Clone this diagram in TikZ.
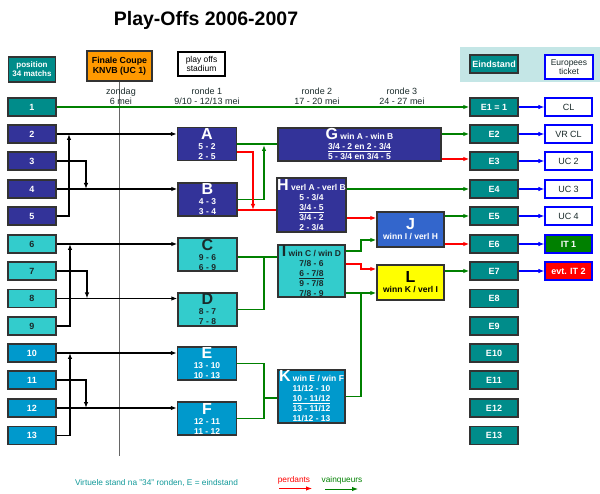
\documentclass[tikz,border=0pt]{standalone}
\usepackage{fontspec}
\setmainfont{Liberation Sans}
\usetikzlibrary{arrows.meta,calc}
\definecolor{tealA}{HTML}{008C8A}
\definecolor{navyA}{HTML}{333399}
\definecolor{turqA}{HTML}{33CCCC}
\definecolor{skyA}{HTML}{0099CC}
\definecolor{orngA}{HTML}{FF9900}
\definecolor{grnA}{HTML}{008000}
\definecolor{redA}{HTML}{FF0000}
\definecolor{bluA}{HTML}{0000FF}
\definecolor{panelA}{HTML}{C4E6E6}
\definecolor{jbluA}{HTML}{3366CC}
\definecolor{ylwA}{HTML}{FFFF00}
\definecolor{bordA}{HTML}{333333}
\definecolor{darkA}{HTML}{1A2A2A}
\definecolor{noteA}{HTML}{119999}
\newcommand{\bigletter}[1]{{\fontsize{16}{16}\selectfont #1}}
\begin{document}
\begin{tikzpicture}[x=1pt,y=-1pt,
  box/.style={draw=bordA, line width=1.4pt, inner sep=0pt, align=center,
    font=\fontsize{8.5}{10}\selectfont\bfseries},
  posbox/.style={box, minimum width=48pt, minimum height=18pt, font=\fontsize{9}{10}\selectfont\bfseries},
  endbox/.style={box, fill=tealA, text=white, minimum width=48pt, minimum height=18pt, font=\fontsize{9}{10}\selectfont\bfseries},
  ticket/.style={draw=bluA, line width=1.2pt, fill=white, inner sep=0pt, align=center,
    minimum width=47pt, minimum height=18pt, font=\fontsize{9}{10}\selectfont, text=darkA},
  matchbox/.style={box, minimum width=59pt, minimum height=33pt},
  hdr/.style={align=center, inner sep=0pt, font=\fontsize{9}{10}\selectfont, text=darkA},
  tip/.style={-{Latex[length=6pt,width=4.5pt]}},
  bline/.style={draw=black, line width=1.15pt},
  gline/.style={draw=grnA, line width=1.15pt},
  rline/.style={draw=redA, line width=1.15pt},
  uline/.style={draw=bluA, line width=1.15pt},
]
\useasboundingbox (0,0) rectangle (600,494);

% title
\node[font=\fontsize{19.5}{22}\selectfont\bfseries] (title) at (206,20) {Play-Offs 2006-2007};

% header boxes
\node[box, fill=tealA, text=white, minimum width=47pt, minimum height=25pt,
  font=\fontsize{8}{9}\selectfont\bfseries] (hpos) at (32,69.5) {position\\34 matchs};
\node[box, fill=orngA, text=black, minimum width=65pt, minimum height=30pt, font=\fontsize{8.8}{10.5}\selectfont\bfseries] (fin) at (119.5,66) {Finale Coupe\\KNVB (UC 1)};
\node[draw=black, line width=1.2pt, fill=white, inner sep=0pt, align=center, minimum width=47pt,
  minimum height=24pt, font=\fontsize{8.5}{9.5}\selectfont] (stad) at (201.5,64) {play offs\\stadium};

\node[fill=panelA, inner sep=0pt, minimum width=140pt, minimum height=35pt] (panel) at (530,64.5) {};
\node[endbox] (heind) at (494,64) {Eindstand};
\node[ticket, minimum width=48pt, minimum height=24pt, font=\fontsize{8.5}{8.5}\selectfont] (hticket) at (569,67) {Europees\\ticket};

% vertical line
\coordinate (vbot) at (119.5,456);
\draw[draw=gray!80!black, line width=1.3pt] (fin.south) -- (vbot);

% round headers
\node[hdr] (h0) at (121,96.5) {zondag\\6 mei};
\node[hdr] (h1) at (207,96.5) {ronde 1\\9/10 - 12/13 mei};
\node[hdr] (h2) at (317,96.5) {ronde 2\\17 - 20 mei};
\node[hdr] (h3) at (402,96.5) {ronde 3\\24 - 27 mei};

% position boxes
\foreach \n/\y/\c/\t in {1/107/tealA/white, 2/134/navyA/white, 3/161/navyA/white, 4/189/navyA/white,
  5/216/navyA/white, 6/244/turqA/darkA, 7/271/turqA/darkA, 8/298.5/turqA/darkA, 9/326/turqA/darkA,
  10/353/skyA/white, 11/380/skyA/white, 12/408/skyA/white, 13/435.5/skyA/white}
  \node[posbox, fill=\c, text=\t] (p\n) at (32,\y) {\n};

% end boxes
\node[endbox] (e1) at (494,107) {E1 = 1};
\foreach \n/\y in {2/134, 3/161, 4/189, 5/216, 6/244, 7/271, 8/298.5, 9/326, 10/353, 11/380, 12/408, 13/435.5}
  \node[endbox] (e\n) at (494,\y) {E\n};

% tickets
\node[ticket] (t1) at (568.5,107) {CL};
\node[ticket] (t2) at (568.5,134) {VR CL};
\node[ticket] (t3) at (568.5,161) {UC 2};
\node[ticket] (t4) at (568.5,189) {UC 3};
\node[ticket] (t5) at (568.5,216) {UC 4};
\node[ticket, draw=bluA, fill=grnA, text=white, font=\fontsize{9}{10}\selectfont\bfseries] (t6) at (568.5,244) {IT 1};
\node[ticket, draw=bluA, fill=redA, text=white, font=\fontsize{9}{10}\selectfont\bfseries] (t7) at (568.5,271) {evt. IT 2};

% round 1 matches
\node[matchbox, fill=navyA, text=white] (mA) at (207,144) {\bigletter{A}\\5 - 2\\2 - 5};
\node[matchbox, fill=navyA, text=white] (mB) at (207.5,199.5) {\bigletter{B}\\4 - 3\\3 - 4};
\node[matchbox, fill=turqA, text=darkA] (mC) at (207.5,254.5) {\bigletter{C}\\9 - 6\\6 - 9};
\node[matchbox, fill=turqA, text=darkA] (mD) at (207.5,309.5) {\bigletter{D}\\8 - 7\\7 - 8};
\node[matchbox, fill=skyA, text=white] (mE) at (207,363.5) {\bigletter{E}\\13 - 10\\10 - 13};
\node[matchbox, fill=skyA, text=white] (mF) at (207,418.5) {\bigletter{F}\\12 - 11\\11 - 12};

% round 2
\node[box, fill=navyA, text=white, minimum width=163pt, minimum height=33pt] (mG) at (359.5,144.5)
  {\bigletter{G} win A - win B\\\underline{3/4 - 2 en 2 - 3/4}\\5 - 3/4 en 3/4 - 5};
\node[box, fill=navyA, text=white, minimum width=67pt, minimum height=54pt] (mH) at (311.5,205)
  {\bigletter{H} verl A - verl B\\5 - 3/4\\\underline{3/4 - 5}\\3/4 - 2\\2 - 3/4};
\node[box, fill=turqA, text=darkA, minimum width=67pt, minimum height=52pt] (mI) at (311.5,271)
  {\bigletter{I} win C / win D\\7/8 - 6\\\underline{6 - 7/8}\\9 - 7/8\\7/8 - 9};
\node[box, fill=skyA, text=white, minimum width=67pt, minimum height=53pt] (mK) at (311.5,396.5)
  {\bigletter{K} win E / win F\\11/12 - 10\\\underline{10 - 11/12}\\13 - 11/12\\11/12 - 13};

% round 3
\node[box, fill=jbluA, text=white, minimum width=67pt, minimum height=35pt] (mJ) at (410.5,229.5)
  {\bigletter{J}\\winn I / verl H};
\node[box, fill=ylwA, text=black, minimum width=67pt, minimum height=35pt] (mL) at (410.5,282.5)
  {\bigletter{L}\\winn K / verl I};

% junction coordinates
\coordinate (j25) at (69,134);
\coordinate (j34) at (86,189);
\coordinate (j69) at (70,244);
\coordinate (j78) at (87,298.5);
\coordinate (j1013) at (70,353);
\coordinate (j1112) at (86,408);
\coordinate (jAB) at (264,145);
\coordinate (jAr) at (253,210);
\coordinate (jCD) at (264,257);
\coordinate (jEF) at (264,398);
\coordinate (yHJ) at (361,218);
\coordinate (yI1) at (361,251);
\coordinate (jIJ) at (361,240);
\coordinate (yI2) at (361,264);
\coordinate (jIL) at (361,269);
\coordinate (yI3) at (361,293);
\coordinate (yG3) at (450,159);

% position -> round 1
\draw[gline, tip] (p1.east) -- (e1.west);
\draw[bline, tip] (p2.east) -- (mA.west |- p2.east);
\draw[bline, tip] (p5.east) -| (j25);
\draw[bline, tip] (p3.east) -| (j34);
\draw[bline, tip] (p4.east) -- (mB.west |- p4.east);
\draw[bline, tip] (p6.east) -- (mC.west |- p6.east);
\draw[bline, tip] (p9.east) -| (j69);
\draw[bline, tip] (p7.east) -| (j78);
\draw[bline, tip] (p8.east) -- (mD.west |- p8.east);
\draw[bline, tip] (p10.east) -- (mE.west |- p10.east);
\draw[bline, tip] (p13.east) -| (j1013);
\draw[bline, tip] (p11.east) -| (j1112);
\draw[bline, tip] (p12.east) -- (mF.west |- p12.east);

% round 1 -> round 2
\draw[gline] (mA.east) -- (mG.west |- mA.east);
\draw[gline, tip] (mB.east) -| (jAB);
\draw[rline, tip] ($(mA.east)+(0,8)$) -| (jAr);
\draw[rline] (mB.east |- jAr) -- (mH.west |- jAr);
\draw[gline] (mC.east |- jCD) -- (jCD) -- (mI.west |- jCD);
\draw[gline] (mD.east) -| (jCD);
\draw[gline] (mE.east) -| (jEF) -- (mK.west |- jEF);
\draw[gline] (mF.east) -| (jEF);

% round 2 -> end / round 3
\draw[gline, tip] (mG.east |- e2.west) -- (e2.west);
\draw[rline, tip] (mG.east |- yG3) -- (e3.west |- yG3);
\draw[gline, tip] (mH.east |- e4.west) -- (e4.west);
\draw[rline, tip] (mH.east |- yHJ) -- (mJ.west |- yHJ);
\draw[gline, tip] (mI.east |- yI1) -| (jIJ) -- (mJ.west |- jIJ);
\draw[rline, tip] (mI.east |- yI2) -| (jIL) -- (mL.west |- jIL);
\draw[gline, tip] (mI.east |- yI3) -- (mL.west |- yI3);
\draw[gline] (mK.east) -| (yI3);

% round 3 -> end
\draw[gline, tip] (mJ.east |- e5.west) -- (e5.west);
\draw[rline, tip] (mJ.east |- e6.west) -- (e6.west);
\draw[gline, tip] (mL.east |- e7.west) -- (e7.west);

% end -> tickets
\foreach \n in {1,...,7}
  \draw[uline, tip] (e\n.east) -- (t\n.west);

% legend
\node[font=\fontsize{8.3}{10}\selectfont, text=noteA, inner sep=0pt] (note) at (156.5,483) {Virtuele stand na "34" ronden, E = eindstand};
\node[font=\fontsize{8.3}{10}\selectfont, text=redA, inner sep=0pt] (lperd) at (294,480.5) {perdants};
\node[font=\fontsize{8.3}{10}\selectfont, text=grnA, inner sep=0pt] (lvainq) at (342,480.5) {vainqueurs};
\coordinate (lr1) at (279,488.5);
\coordinate (lr2) at (312,488.5);
\coordinate (lg1) at (325,489);
\coordinate (lg2) at (358,489);
\draw[rline, line width=1pt, tip] (lr1) -- (lr2);
\draw[gline, line width=1pt, tip] (lg1) -- (lg2);
\end{tikzpicture}
\end{document}
